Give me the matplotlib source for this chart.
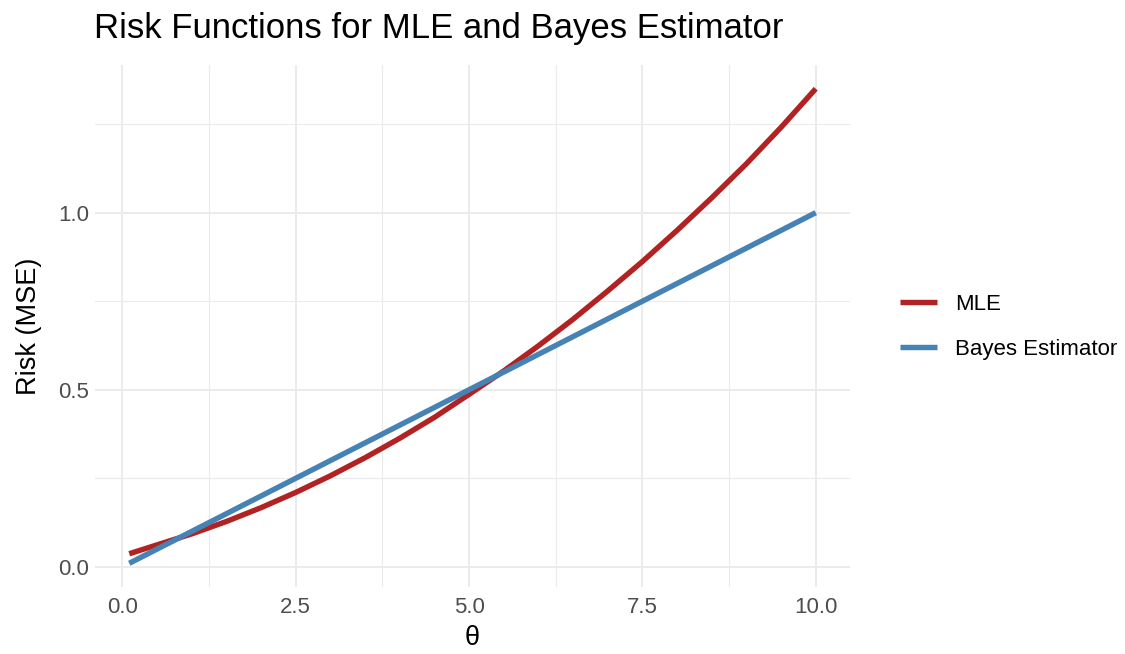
import matplotlib
matplotlib.use("Agg")
import matplotlib.pyplot as plt
from matplotlib.ticker import MultipleLocator

plt.rcParams["font.family"] = ["Liberation Sans", "DejaVu Sans"]

# ------------------------------
# Values
# ------------------------------
theta = [0.1, 0.5, 1.0, 1.5, 2.0, 2.5, 3.0, 3.5, 4.0, 4.5, 5.0,
         5.5, 6.0, 6.5, 7.0, 7.5, 8.0, 8.5, 9.0, 9.5, 10.0]
risk_mle = [0.037, 0.062, 0.093, 0.128, 0.167, 0.210, 0.257, 0.308, 0.363, 0.422, 0.487,
            0.553, 0.624, 0.699, 0.779, 0.862, 0.950, 1.042, 1.138, 1.241, 1.350]
risk_bayes = [0.01, 0.05, 0.10, 0.15, 0.20, 0.25, 0.30, 0.35, 0.40, 0.45, 0.50,
              0.55, 0.60, 0.65, 0.70, 0.75, 0.80, 0.85, 0.90, 0.95, 1.00]
series_labels = ["MLE", "Bayes Estimator"]
series_colors = ["#B22222", "#4682B4"]

# ------------------------------
# Figure
# ------------------------------
fig = plt.figure(figsize=(11.25, 6.54), dpi=100)
ax = fig.add_axes([0.0844, 0.1024, 0.6712, 0.7982])

for y, label, color in zip([risk_mle, risk_bayes], series_labels, series_colors):
    ax.plot(theta, y, color=color, linewidth=3.9, label=label,
            solid_capstyle="butt", solid_joinstyle="round")

# ggplot-like 5% expansion
xr = max(theta) - min(theta)
ax.set_xlim(min(theta) - 0.05 * xr, max(theta) + 0.05 * xr)
ymin = min(min(risk_mle), min(risk_bayes))
ymax = max(max(risk_mle), max(risk_bayes))
yr = ymax - ymin
ax.set_ylim(ymin - 0.05 * yr, ymax + 0.05 * yr)

ax.xaxis.set_major_locator(MultipleLocator(2.5))
ax.xaxis.set_minor_locator(MultipleLocator(1.25))
ax.yaxis.set_major_locator(MultipleLocator(0.5))
ax.yaxis.set_minor_locator(MultipleLocator(0.25))
ax.xaxis.set_major_formatter(plt.FuncFormatter(lambda v, p: f"{v:.1f}"))
ax.yaxis.set_major_formatter(plt.FuncFormatter(lambda v, p: f"{v:.1f}"))

ax.grid(True, which="major", color="#EBEBEB", linewidth=1.4)
ax.grid(True, which="minor", color="#EBEBEB", linewidth=0.8)
ax.set_axisbelow(True)
for s in ax.spines.values():
    s.set_visible(False)
ax.tick_params(which="both", length=0)
ax.tick_params(axis="x", labelsize=16, labelcolor="#4D4D4D", pad=7)
ax.tick_params(axis="y", labelsize=16, labelcolor="#4D4D4D", pad=4)

ax.set_xlabel("θ", fontsize=19.5, labelpad=5)
ax.set_ylabel("Risk (MSE)", fontsize=19.5, labelpad=12)
fig.text(0.084, 0.957, "Risk Functions for MLE and Bayes Estimator",
         fontsize=25, ha="left", va="center")

fig.legend(loc="center left", bbox_to_anchor=(0.782, 0.5), frameon=False,
           fontsize=16, handlelength=1.67, handletextpad=0.8, labelspacing=1.1)

fig.savefig("out.png", dpi=100, facecolor="white")
